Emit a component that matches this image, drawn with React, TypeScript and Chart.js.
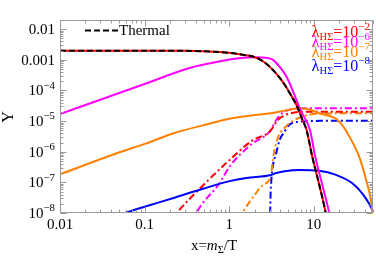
import React, { useEffect, useRef } from 'react';
import { Chart, registerables } from 'chart.js';
Chart.register(...registerables);

const FONT = '"Liberation Serif", "Times New Roman", serif';

// ---------------- data ----------------
const thermalX = [0.01, 0.1, 0.3, 0.5, 0.77, 1.0, 1.5, 1.9, 2.5, 3.0, 4.0, 4.67, 5.4, 6.22, 7.2, 8.2, 9.6, 11.6, 13.8, 15.5];
const thermalY = [2.0e-3, 2.0e-3, 1.97e-3, 1.9e-3, 1.8e-3, 1.7e-3, 1.45e-3, 1.28e-3, 9.0e-4, 6.0e-4, 2.5e-4, 1.34e-4, 6.8e-5, 3.4e-5, 1.26e-5, 5.1e-6, 6.7e-7, 8.2e-8, 1.0e-8, 1.5e-9];

const magentaX = [0.01, 0.1, 0.34, 0.84, 1.3, 1.89, 2.5, 3.13, 3.3, 3.93, 4.74, 5.9, 6.93, 9.0, 10.4, 12.6, 15.2, 17];
const magentaY = [1.7e-5, 1.63e-4, 5.4e-4, 9.3e-4, 1.12e-3, 1.22e-3, 1.2e-3, 1.08e-3, 1.0e-3, 6.0e-4, 2.85e-4, 7.2e-5, 2.3e-5, 5.1e-6, 6.7e-7, 8.2e-8, 1.0e-8, 2e-9];

const orangeX = [0.01, 0.047, 0.1, 0.22, 0.5, 1.01, 2.0, 3.26, 4.5, 5.6, 6.8, 8.9, 11.5, 15, 18.3, 22, 26, 34.3, 41.5, 47.2, 51];
const orangeY = [1.84e-7, 8.9e-7, 1.8e-6, 4.0e-6, 7.4e-6, 1.2e-5, 1.58e-5, 1.85e-5, 2.2e-5, 2.5e-5, 2.65e-5, 2.4e-5, 1.8e-5, 1.5e-5, 1.2e-5, 7e-6, 3.3e-6, 6.9e-7, 1.2e-7, 2.7e-8, 5e-9];

const blueX = [0.05, 0.059, 0.1, 0.22, 0.49, 1.01, 1.59, 3.13, 3.5, 4.5, 6.8, 11.5, 18.3, 28.5, 41.5, 49.2, 52];
const blueY = [8.4e-9, 1e-8, 1.6e-8, 3.1e-8, 6.2e-8, 1.1e-7, 1.4e-7, 1.75e-7, 1.98e-7, 2.3e-7, 2.54e-7, 2.4e-7, 1.75e-7, 9.3e-8, 2.9e-8, 1.25e-8, 8e-9];

const redDashX = [0.2, 0.24, 0.47, 1.01, 1.9, 3.0, 3.75, 4.67, 6.8, 10, 50];
const redDashY = [5e-9, 1e-8, 7.1e-8, 5.4e-7, 2.4e-6, 4.5e-6, 1.09e-5, 1.6e-5, 2.0e-5, 2.04e-5, 2.04e-5];

const magDashX = [0.36, 0.41, 0.77, 1.01, 1.9, 3.0, 3.6, 4.3, 5.5, 6.8, 10, 50];
const magDashY = [4e-9, 1e-8, 9.5e-8, 3.3e-7, 1.9e-6, 4.5e-6, 1.1e-5, 1.9e-5, 2.45e-5, 2.6e-5, 2.64e-5, 2.64e-5];

const orangeDashX = [1.3, 1.43, 2.0, 2.5, 3.13, 3.27, 3.75, 4.67, 5.6, 6.8, 8.1, 12, 20, 50];
const orangeDashY = [6e-9, 1e-8, 3.9e-8, 8.2e-8, 1.75e-7, 5.4e-7, 2.8e-6, 6.6e-6, 1.0e-5, 1.3e-5, 1.55e-5, 1.75e-5, 1.79e-5, 1.79e-5];

const blueDashX = [3.03, 3.05, 3.13, 3.27, 3.59, 3.93, 4.5, 5.1, 6.8, 8.9, 12, 50];
const blueDashY = [1e-9, 1e-8, 9.3e-8, 3.3e-7, 8.9e-7, 2.4e-6, 4.5e-6, 7.5e-6, 9.6e-6, 1.0e-5, 1.02e-5, 1.02e-5];

const xMin = 0.01;
const xMax = 50;
const yMin = 1e-8;
const yMax = 0.02;

const xMajorTicks = [0.01, 0.1, 1, 10];
const xTickLabels = ['0.01', '0.1', '1', '10'];
const yMajorTicks = [1e-2, 1e-3, 1e-4, 1e-5, 1e-6, 1e-7, 1e-8];
const yTickLabels = ['0.01', '0.001', '10^\u22124', '10^\u22125', '10^\u22126', '10^\u22127', '10^\u22128'];

const lambdaExponents = ['\u22122', '\u22126', '\u22127', '\u22128'];
const lambdaColors = ['#ff0000', '#ff00ff', '#ff8000', '#0000ff'];

// ---------------- helpers ----------------
type Part = { t: string; size: number; dy?: number; italic?: boolean };

function setFont(ctx: CanvasRenderingContext2D, p: Part) {
  ctx.font = `${p.italic ? 'italic ' : ''}${p.size}px ${FONT}`;
}

function drawParts(ctx: CanvasRenderingContext2D, parts: Part[], x: number, y: number, align: 'left' | 'right' | 'center', color: string) {
  let w = 0;
  parts.forEach((p) => { setFont(ctx, p); w += ctx.measureText(p.t).width; });
  let cx = align === 'left' ? x : align === 'right' ? x - w : x - w / 2;
  ctx.fillStyle = color;
  ctx.textAlign = 'left';
  ctx.textBaseline = 'alphabetic';
  parts.forEach((p) => {
    setFont(ctx, p);
    ctx.fillText(p.t, cx, y + (p.dy || 0));
    cx += ctx.measureText(p.t).width;
  });
}

function powerParts(label: string, size: number): Part[] {
  if (label.includes('^')) {
    const [b, e] = label.split('^');
    return [{ t: b, size }, { t: e, size: size * 0.72, dy: -size * 0.45 }];
  }
  return [{ t: label, size }];
}

function pts(xs: number[], ys: number[]) {
  return xs.map((x, i) => ({ x, y: ys[i] }));
}

const framePlugin = {
  id: 'mmaFrame',
  afterDatasetsDraw(chart: any) {
    const { ctx, chartArea: a, scales } = chart;
    const xs = scales.x;
    const ys = scales.y;
    ctx.save();
    ctx.strokeStyle = '#999999';
    ctx.lineWidth = 1;
    ctx.setLineDash([]);
    const L = Math.round(a.left) + 0.5;
    const R = Math.round(a.right) - 0.5;
    const T = Math.round(a.top) + 0.5;
    const B = Math.round(a.bottom) - 0.5;
    ctx.strokeRect(L, T, R - L, B - T);
    ctx.beginPath();
    for (let d = -2; d <= 1; d++) {
      for (let k = 1; k <= 9; k++) {
        const v = k * Math.pow(10, d);
        if (v > xMax) break;
        const px = Math.round(xs.getPixelForValue(v)) + 0.5;
        const len = k === 1 ? 6 : 3;
        ctx.moveTo(px, B); ctx.lineTo(px, B - len);
        ctx.moveTo(px, T); ctx.lineTo(px, T + len);
      }
    }
    for (let d = -8; d <= -2; d++) {
      for (let k = 1; k <= 9; k++) {
        const v = k * Math.pow(10, d);
        if (v > yMax * 1.0001) break;
        const py = Math.round(ys.getPixelForValue(v)) + 0.5;
        const len = k === 1 ? 6 : 3;
        ctx.moveTo(L, py); ctx.lineTo(L + len, py);
        ctx.moveTo(R, py); ctx.lineTo(R - len, py);
      }
    }
    ctx.stroke();

    // tick labels
    xMajorTicks.forEach((v, i) => {
      const px = xs.getPixelForValue(v);
      drawParts(ctx, [{ t: xTickLabels[i], size: 15 }], px, a.bottom + 16, 'center', '#000');
    });
    yMajorTicks.forEach((v, i) => {
      const py = ys.getPixelForValue(v);
      drawParts(ctx, powerParts(yTickLabels[i], 15), a.left - 5, py + 5, 'right', '#000');
    });

    // axis titles
    drawParts(ctx, [
      { t: 'x=', size: 15 },
      { t: 'm', size: 15, italic: true },
      { t: '\u03A3', size: 10.5, dy: 3 },
      { t: '/T', size: 15 },
    ], 214, 250, 'center', '#000');
    ctx.save();
    ctx.translate(13, 117);
    ctx.rotate(-Math.PI / 2);
    drawParts(ctx, [{ t: 'Y', size: 16 }], 0, 0, 'center', '#000');
    ctx.restore();

    // thermal legend
    ctx.strokeStyle = '#000';
    ctx.lineWidth = 2;
    ctx.setLineDash([6, 3]);
    ctx.beginPath();
    ctx.moveTo(85, 30.5);
    ctx.lineTo(119, 30.5);
    ctx.stroke();
    ctx.setLineDash([]);
    drawParts(ctx, [{ t: 'Thermal', size: 15 }], 119, 35, 'left', '#000');

    // lambda labels
    const baselines = [37, 47, 57, 71];
    lambdaExponents.forEach((e, i) => {
      drawParts(ctx, [
        { t: '\u03BB', size: 16.5 },
        { t: 'H\u03A3', size: 10.5, dy: 3 },
        { t: '=10', size: 16 },
        { t: e, size: 11, dy: -7 },
      ], 370, baselines[i], 'right', lambdaColors[i]);
    });
    ctx.restore();
  },
};

const DD = [7, 3, 2, 3];

export default function App() {
  const ref = useRef<HTMLCanvasElement | null>(null);
  useEffect(() => {
    document.body.style.margin = '0';
    const canvas = ref.current!;
    const common = { pointRadius: 0, borderWidth: 2, showLine: true, fill: false, cubicInterpolationMode: 'monotone' as const };
    const chart = new Chart(canvas, {
      type: 'scatter',
      data: {
        datasets: [
          { ...common, label: 'Thermal', data: pts(thermalX, thermalY), borderColor: '#000000', borderDash: [6, 3] },
          { ...common, label: 'red', data: pts(thermalX, thermalY), borderColor: '#ff0000' },
          { ...common, label: 'magenta', data: pts(magentaX, magentaY), borderColor: '#ff00ff' },
          { ...common, label: 'orange', data: pts(orangeX, orangeY), borderColor: '#ff8000' },
          { ...common, label: 'blue', data: pts(blueX, blueY), borderColor: '#0000ff' },
          { ...common, label: 'redDash', data: pts(redDashX, redDashY), borderColor: '#ff0000', borderDash: DD },
          { ...common, label: 'magDash', data: pts(magDashX, magDashY), borderColor: '#ff00ff', borderDash: DD },
          { ...common, label: 'orangeDash', data: pts(orangeDashX, orangeDashY), borderColor: '#ff8000', borderDash: DD },
          { ...common, label: 'blueDash', data: pts(blueDashX, blueDashY), borderColor: '#0000ff', borderDash: DD },
        ],
      },
      options: {
        animation: false,
        responsive: false,
        maintainAspectRatio: false,
        layout: { padding: { left: 60, right: 3, top: 20, bottom: 43 } },
        plugins: { legend: { display: false }, tooltip: { enabled: false } },
        scales: {
          x: { type: 'logarithmic', min: xMin, max: xMax, display: false },
          y: { type: 'logarithmic', min: yMin, max: yMax, display: false },
        },
      },
      plugins: [framePlugin],
    });
    return () => chart.destroy();
  }, []);
  return (
    <div style={{ width: 376, height: 256, background: '#fff' }}>
      <canvas ref={ref} width={376} height={256} style={{ display: 'block', width: 376, height: 256 }} />
    </div>
  );
}
